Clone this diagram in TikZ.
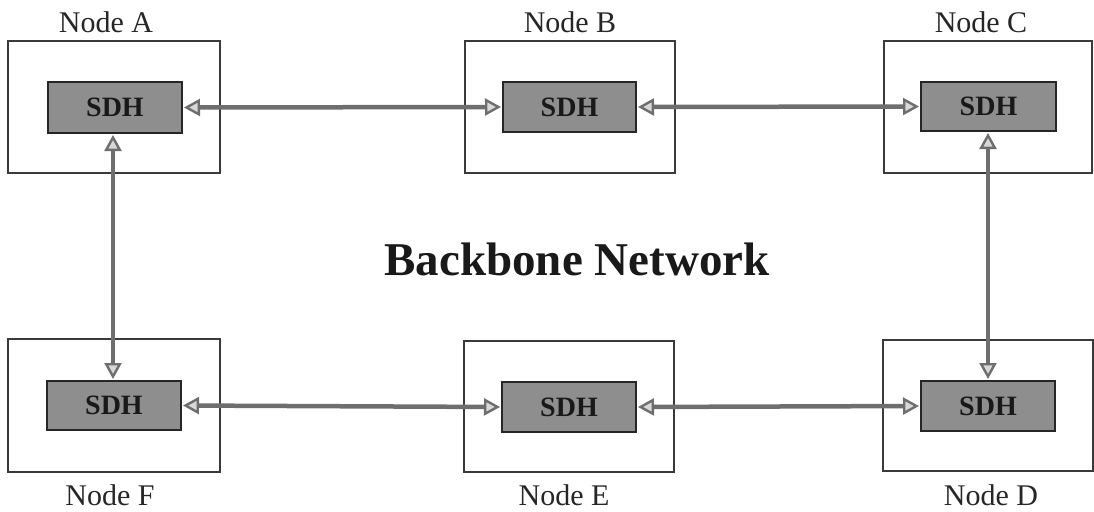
\documentclass[tikz,border=0pt]{standalone}
\usepackage{fontspec}
\setmainfont{Liberation Serif}
\usetikzlibrary{arrows.meta}
\definecolor{boxline}{HTML}{3A3A3A}
\definecolor{sdhfill}{HTML}{8E8E8E}
\definecolor{linkgray}{HTML}{6E6E6E}
\definecolor{headfill}{HTML}{D8D8D8}
\tikzset{
  site/.style={draw=boxline, line width=1.4pt, fill=white, inner sep=0pt},
  sdh/.style={draw=black!85, line width=2pt, fill=sdhfill, inner sep=0pt,
    font=\fontsize{28}{28}\selectfont\bfseries, text=black!90},
  sitelabel/.style={font=\fontsize{30}{30}\selectfont, text=black!85, anchor=base},
  link/.style={draw=linkgray, line width=4.5pt,
    >={Triangle[open, length=16pt, width=17pt, line width=2.4pt, fill=headfill]},
    <->, shorten <=1pt, shorten >=1pt},
}
\begin{document}
\begin{tikzpicture}[x=1pt, y=-1pt]
\useasboundingbox (0,0) rectangle (1094,511);

% site enclosures
\node[site, minimum width=212pt, minimum height=132pt] (boxA) at (114,107) {};
\node[site, minimum width=210pt, minimum height=132pt] (boxB) at (570,107) {};
\node[site, minimum width=208pt, minimum height=132pt] (boxC) at (988,107) {};
\node[site, minimum width=212pt, minimum height=133pt] (boxF) at (114,405.5) {};
\node[site, minimum width=210pt, minimum height=131pt] (boxE) at (569,406.5) {};
\node[site, minimum width=210pt, minimum height=131pt] (boxD) at (988,405.5) {};

% SDH equipment
\node[sdh, minimum width=134pt, minimum height=51pt] (sdhA) at (115,107.5) {SDH};
\node[sdh, minimum width=133pt, minimum height=50pt] (sdhB) at (569.5,107) {SDH};
\node[sdh, minimum width=135pt, minimum height=49pt] (sdhC) at (988.5,106.5) {SDH};
\node[sdh, minimum width=134pt, minimum height=49pt] (sdhF) at (114,405.5) {SDH};
\node[sdh, minimum width=134pt, minimum height=50pt] (sdhE) at (569,407) {SDH};
\node[sdh, minimum width=134pt, minimum height=50pt] (sdhD) at (988,406) {SDH};

% site names
\node[sitelabel] (labA) at (106,33) {Node A};
\node[sitelabel] (labB) at (570,33) {Node B};
\node[sitelabel] (labC) at (981,33) {Node C};
\node[sitelabel] (labF) at (110,505) {Node F};
\node[sitelabel] (labE) at (564,505) {Node E};
\node[sitelabel] (labD) at (991,505) {Node D};

% title
\node[font=\fontsize{47}{47}\selectfont\bfseries, text=black!90, anchor=base] (title) at (577,275) {Backbone Network};

% ring links
\draw[link] (sdhA.east) -- (sdhB.west);
\draw[link] (sdhB.east) -- (sdhC.west);
\draw[link] (sdhF.east) -- (sdhE.west);
\draw[link] (sdhE.east) -- (sdhD.west);
\draw[link] (sdhA.south -| 113,0) -- (sdhF.north -| 113,0);
\draw[link] (sdhC.south -| 988,0) -- (sdhD.north -| 988,0);
\end{tikzpicture}
\end{document}
